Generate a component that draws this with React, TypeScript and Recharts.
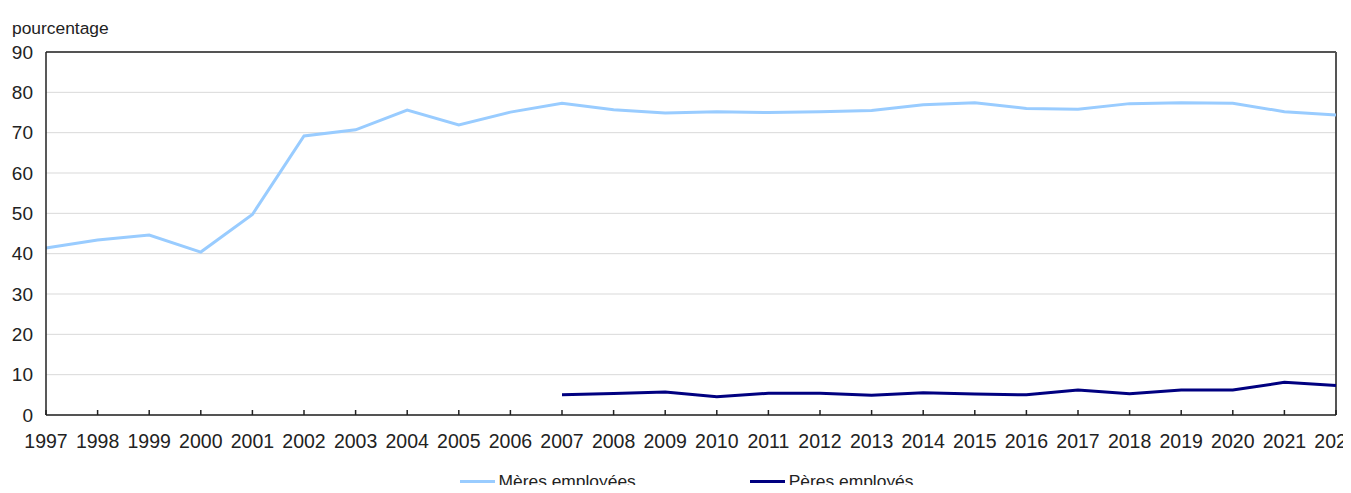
import { LineChart, Line, XAxis, YAxis, CartesianGrid, Legend, ReferenceLine } from 'recharts';

const years = [1997, 1998, 1999, 2000, 2001, 2002, 2003, 2004, 2005, 2006, 2007, 2008, 2009, 2010, 2011, 2012, 2013, 2014, 2015, 2016, 2017, 2018, 2019, 2020, 2021, 2022];

const meres = [41.4, 43.4, 44.6, 40.4, 49.7, 69.2, 70.7, 75.6, 71.9, 75.1, 77.3, 75.7, 74.9, 75.2, 75.0, 75.2, 75.5, 76.9, 77.4, 76.0, 75.8, 77.2, 77.4, 77.3, 75.2, 74.4];

const peres = [null, null, null, null, null, null, null, null, null, null, 5.0, 5.3, 5.7, 4.5, 5.4, 5.4, 4.9, 5.5, 5.2, 5.0, 6.2, 5.3, 6.2, 6.2, 8.1, 7.3];

const yTicks = [0, 10, 20, 30, 40, 50, 60, 70, 80, 90];

const series = [
  { key: 'meres', label: 'Mères employées', color: '#99CCFF' },
  { key: 'peres', label: 'Pères employés', color: '#000080' },
];

const chartData = years.map((year, i) => ({ year, meres: meres[i], peres: peres[i] }));

const font = '"Liberation Sans", Arial, sans-serif';

function LegendContent() {
  return (
    <div
      style={{
        display: 'flex',
        justifyContent: 'center',
        gap: 114,
        height: 38,
        boxSizing: 'border-box',
        paddingTop: 16,
        paddingLeft: 37,
        fontFamily: font,
        fontSize: 17.4,
        lineHeight: '20px',
        color: '#222',
      }}
    >
      {series.map((s) => (
        <div key={s.key} style={{ display: 'flex', alignItems: 'center', height: 20 }}>
          <span style={{ display: 'inline-block', width: 35, height: 3, background: s.color, marginRight: 4 }} />
          <span>{s.label}</span>
        </div>
      ))}
    </div>
  );
}

export default function App() {
  return (
    <div style={{ margin: -8, width: 1351, height: 493, position: 'relative', background: '#fff', fontFamily: font }}>
      <div style={{ position: 'absolute', left: 12, top: 18, fontSize: 17.4, lineHeight: '20px', color: '#222' }}>pourcentage</div>
      <LineChart width={1351} height={493} data={chartData} margin={{ top: 52, right: 15, bottom: 0, left: 0 }}>
        <CartesianGrid vertical={false} stroke="#d9d9d9" strokeWidth={1} />
        <XAxis
          dataKey="year"
          type="number"
          domain={[1997, 2022]}
          ticks={years}
          interval={0}
          height={40}
          tickSize={-5}
          tickMargin={24}
          stroke="#222"
          strokeWidth={1.5}
          tick={{ fill: '#222', fontSize: 19.5, fontFamily: font }}
        />
        <YAxis
          domain={[0, 90]}
          ticks={yTicks}
          width={46}
          tickSize={0}
          tickMargin={13}
          stroke="#222"
          strokeWidth={1.5}
          tick={{ fill: '#222', fontSize: 19, fontFamily: font }}
        />
        <ReferenceLine y={90} stroke="#222" strokeWidth={1.5} />
        <ReferenceLine x={2022} stroke="#555" strokeWidth={2} />
        <Legend verticalAlign="bottom" height={38} content={<LegendContent />} />
        {series.map((s) => (
          <Line
            key={s.key}
            type="linear"
            dataKey={s.key}
            name={s.label}
            stroke={s.color}
            strokeWidth={3}
            dot={false}
            activeDot={false}
            connectNulls={false}
            isAnimationActive={false}
          />
        ))}
      </LineChart>
    </div>
  );
}
